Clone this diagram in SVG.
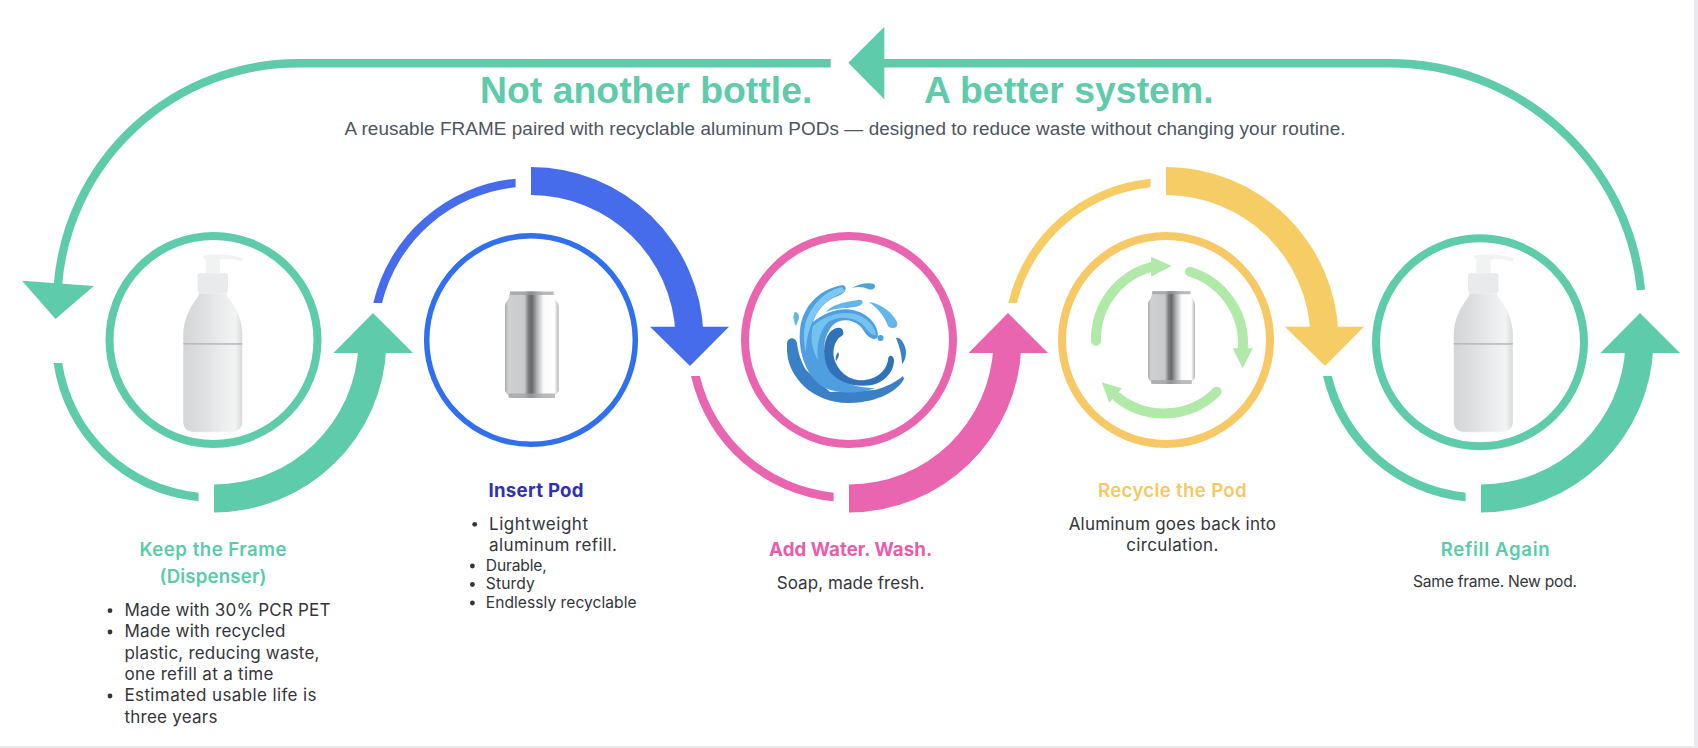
<svg xmlns="http://www.w3.org/2000/svg" xmlns:xlink="http://www.w3.org/1999/xlink" width="1698" height="748" viewBox="0 0 1698 748">
<style>
.teal{fill:#5ecbaa}.blue{fill:#466cec}.pink{fill:#e965b0}.yellow{fill:#f6cc65}
.ring{fill:#fff;stroke-width:8}
.big{fill:none;stroke:#5ecbaa;stroke-width:8.4}
.re{fill:none;stroke:#b1e9a9;stroke-width:10;stroke-linecap:round}
.ref{fill:#b1e9a9}
text{font-family:"Inter","Liberation Sans",sans-serif}
.title{font-family:"Liberation Sans",Arial,sans-serif;font-weight:700;font-size:37.4px;fill:#5ecbaa}
.sub{font-family:"Liberation Sans",Arial,sans-serif;font-size:18.9px;fill:#4b5563}
.h{font-weight:600;font-size:18.6px;text-anchor:middle}
.b{font-size:17px;fill:#33353a}
.s{font-size:15.6px;fill:#33353a}
.c{text-anchor:middle}
.dot{fill:#33353a}
</style>
<defs>
<linearGradient id="canG" x1="0" x2="1" y1="0" y2="0">
<stop offset="0" stop-color="#a8a9ab"/><stop offset=".06" stop-color="#cfd0d2"/><stop offset=".36" stop-color="#c9cacc"/><stop offset=".44" stop-color="#7a7b7d"/><stop offset=".5" stop-color="#68696b"/><stop offset=".6" stop-color="#b4b5b7"/><stop offset=".72" stop-color="#fbfbfb"/><stop offset=".92" stop-color="#ffffff"/><stop offset="1" stop-color="#b5b6b8"/>
</linearGradient>
<linearGradient id="botG" x1="0" x2="1" y1="0" y2="0">
<stop offset="0" stop-color="#d3d5d6"/><stop offset=".3" stop-color="#dddedf"/><stop offset=".68" stop-color="#ecedee"/><stop offset=".88" stop-color="#f2f3f3"/><stop offset="1" stop-color="#d8d9da"/>
</linearGradient>
<radialGradient id="botS"><stop offset="0" stop-color="#c8c9c9" stop-opacity=".55"/><stop offset="1" stop-color="#ffffff" stop-opacity="0"/></radialGradient>
<path id="lt1" d="M-158,36A162 162 0 0 0-15.4,161.3L-15.4,152.7A153.5 153.5 0 0 1-149.2,36Z"/>
<path id="ut" d="M-157.7,-37A162 162 0 0 1-15.4,-161.3L-15.4,-152.7A153.5 153.5 0 0 0-149,-37Z"/>
<g id="lowArrow"><path d="M0,172.5A172.5 172.5 0 0 0 172.4,5L144.4,5A144.5 144.5 0 0 1 0,144.5Z"/><path d="M159,-27L199,13L119.5,13Z"/></g>
<g id="upArrow"><path d="M0,-173A173 173 0 0 1 172.5,-5L144.5,-5A145 145 0 0 0 0,-145Z"/><path d="M159,26L198,-13.3L119,-13.3Z"/></g>
<g id="bottle">
<ellipse cx="203" cy="430" rx="24" ry="5" fill="url(#botS)"/>
<path d="M204,255.5C212,254 232,253.5 243.5,258.5L242,261.5C233,258.5 226,258.5 220,259.5L220,273.5L205.7,273.5L205.7,259L203.5,258Z" fill="#f1f2f2"/>
<path d="M197.5,276Q197.5,273.3 200,273.3L225.5,273.3Q228,273.3 228,276L228,291L226,293.5L199.5,293.5L197.5,291Z" fill="#e9eaeb"/>
<path d="M199,293.5L226.5,293.5L227,296C235,306 242.3,318 242.3,335L242.3,344L183.3,344L183.3,335C183.3,318 191,306 198.5,296Z" fill="url(#botG)"/>
<path d="M183.3,344.8L242.3,344.8L242.3,421Q242.3,431.8 231,431.8L194,431.8Q183.3,431.8 183.3,421Z" fill="url(#botG)"/>
<rect x="183.3" y="343.4" width="59" height="1.2" fill="#a4a5a9"/>
</g>
<g id="can">
<path d="M5,0.5L48.7,0.5L49.5,6C50.5,10 53.7,11 53.7,16L53.7,100L50,105L47,107L7,107L3.7,105L0,100L0,16C0,11 3,10 4,6Z" fill="url(#canG)"/>
<rect x="5" y="0.5" width="43.7" height="3.5" fill="#9c9d9f" opacity=".7"/>
<rect x="3.7" y="102.5" width="46.3" height="4.5" fill="#a3a4a6" opacity=".75"/>
</g>
</defs>
<rect width="1698" height="748" fill="#fff"/>
<rect x="1694" y="0" width="4" height="748" fill="#e9e9ef"/>
<rect x="0" y="746" width="1698" height="2" fill="#e9e9ef"/>

<g id="connectors">
<path class="big" d="M830.7,63.3L298,63.3A241 241 0 0 0 58,284"/>
<path class="teal" d="M22,280.7L93.8,286L55.5,319Z"/>
<path class="big" d="M884,63.3L1390,63.3A252 252 0 0 1 1641,290"/>
<path class="teal" d="M848.3,62.7L884.3,26.7L884.3,99.3Z"/>
<use href="#lowArrow" class="teal" transform="translate(214,340)"/>
<path class="teal" d="M53.6,363A162 162 0 0 0 198.6,501.3L198.6,492.7A153.5 153.5 0 0 1 62.2,363Z"/>
<use href="#ut" class="blue" transform="translate(531,340)"/>
<use href="#upArrow" class="blue" transform="translate(531,340)"/>
<use href="#lt1" class="pink" transform="translate(849,340)"/>
<use href="#lowArrow" class="pink" transform="translate(849,340)"/>
<use href="#ut" class="yellow" transform="translate(1166,340)"/>
<use href="#upArrow" class="yellow" transform="translate(1166,340)"/>
<use href="#lt1" class="teal" transform="translate(1481,340)"/>
<use href="#lowArrow" class="teal" transform="translate(1481,340)"/>
</g>

<g id="header">
<text class="title" x="480" y="103">Not another bottle.</text>
<text class="title" x="924" y="103">A better system.</text>
<text class="sub" x="344.5" y="135" textLength="1001">A reusable FRAME paired with recyclable aluminum PODs — designed to reduce waste without changing your routine.</text>
</g>

<g id="node-frame">
<circle class="ring" cx="213.5" cy="340" r="104" stroke="#5ecbaa"/>
<use href="#bottle"/>
<text class="h" x="213" y="556" fill="#56cda8" textLength="147">Keep the Frame</text>
<text class="h" x="213" y="583" fill="#56cda8" textLength="107">(Dispenser)</text>
<circle class="dot" cx="110" cy="610.7" r="2.4"/><circle class="dot" cx="110" cy="632" r="2.4"/><circle class="dot" cx="110" cy="696" r="2.4"/>
<text class="b" x="124.5" y="616" textLength="206">Made with 30% PCR PET</text>
<text class="b" x="124.5" y="637.3" textLength="161">Made with recycled</text>
<text class="b" x="124.5" y="658.7" textLength="195">plastic, reducing waste,</text>
<text class="b" x="124.5" y="680" textLength="149">one refill at a time</text>
<text class="b" x="124.5" y="701.3" textLength="192">Estimated usable life is</text>
<text class="b" x="124.5" y="722.7" textLength="93">three years</text>
</g>

<g id="node-pod">
<circle class="ring" cx="531" cy="340" r="104.3" stroke="#3070ee" style="stroke-width:5.5"/>
<use href="#can" transform="translate(505,291)"/>
<text class="h" x="536" y="496.7" fill="#3030b4" style="font-weight:700" textLength="95">Insert Pod</text>
<circle class="dot" cx="474.7" cy="524.3" r="2.4"/><circle class="dot" cx="472.4" cy="566" r="2.4"/><circle class="dot" cx="472.4" cy="584.5" r="2.4"/><circle class="dot" cx="472.4" cy="603" r="2.4"/>
<text class="b" x="489" y="530" textLength="99">Lightweight</text>
<text class="b" x="489" y="551.3" textLength="128">aluminum refill.</text>
<text class="s" x="485.8" y="570.7" textLength="61">Durable,</text>
<text class="s" x="485.8" y="589.3" textLength="49">Sturdy</text>
<text class="s" x="485.8" y="607.7" textLength="150.8">Endlessly recyclable</text>
</g>

<g id="node-water">
<circle class="ring" cx="849" cy="340" r="104" stroke="#e965b0"/>
<g id="splash">
<path fill="#3a80c6" d="M787,345C786,338 795,335 797,343C798,352 801,362 806,370L830,392L875,390C886,387 896,382 903,376L904,379C898,390 880,402 850,403C815,404 785,378 787,345Z"/>
<path fill="#4f9fe0" d="M843,285C848,287 846,293 838,296C826,300 817,310 813,322C825,312 840,307 853,310C866,313 877,322 878,335C878,339 874,340 871,338C866,336 864,330 860,326C852,319 840,318 832,326C824,336 822,350 826,362C832,378 850,388 875,388C860,394 835,395 820,385C805,373 798,350 800,330C802,310 815,290 843,285Z"/>
<path fill="#7cc8f2" d="M842,287C826,290 810,305 805,325C803,335 804,345 806,352C806,335 812,318 822,306C830,298 838,295 845,291Z"/>
<path fill="#74c2ef" d="M813,326C825,315 842,311 855,314C866,317 875,325 876,335C872,337 868,330 862,324C852,316 838,316 828,322C820,330 816,345 818,360C812,350 810,338 813,326Z"/>
<path fill="#62b6ea" d="M826,312C832,304 846,302 858,300C864,299 864,304 859,306C848,309 836,307 826,312Z"/>
<path fill="#2f72b8" d="M843,331C842,326 835,327 830,332C822,342 822,360 830,372C840,385 865,390 880,382C890,376 894,368 894,360C893,354 888,355 888,360C887,368 880,378 865,380C850,382 838,372 834,358C832,348 836,340 840,337C843,336 844,334 843,331Z"/>
<path fill="#4aa3dc" d="M852,288C858,284 868,282 874,284C877,287 873,291 868,289C864,287 858,286 852,288Z"/>
<path fill="#62b6ea" d="M869,302C880,303 892,312 897,322C899,328 892,330 888,326C885,318 880,310 869,302Z"/>
<path fill="#62b6ea" d="M795,312C799,312 800,318 798,321L796,326C794,322 792,316 795,312Z"/>
<circle fill="#4aa3dc" cx="880.5" cy="338" r="3"/>
<path fill="#3a82c8" d="M896,338C900,336 906,345 906,352C906,358 904,362 902,364C902,355 899,345 896,338Z"/>
<path fill="#2f72b8" d="M838,352C836,355 835,358 836,361C838,358 840,355 838,352Z"/>
</g>
<text class="h" x="850.6" y="555.7" fill="#e95cac" style="font-weight:700" textLength="163">Add Water. Wash.</text>
<text class="b c" x="850.5" y="589" textLength="147.6">Soap, made fresh.</text>
</g>

<g id="node-recycle">
<circle class="ring" cx="1166" cy="340" r="104" stroke="#f6c966"/>
<path class="re" d="M1096,340.7A75 75 0 0 1 1153,266.5"/>
<path class="ref" d="M1171.7,266L1151,256.7L1151,276.7Z"/>
<path class="re" d="M1190,271.7A75 75 0 0 1 1242.7,350"/>
<path class="ref" d="M1242.7,368.3L1232.7,348.3L1252.7,348.3Z"/>
<path class="re" d="M1216.7,391.7A75 75 0 0 1 1117,397"/>
<path class="ref" d="M1101.7,382.3L1121.7,388.3L1109.3,402.7Z"/>
<use href="#can" transform="translate(1148,290.7) scale(.875,.872)"/>
<text class="h" x="1172.3" y="496.7" fill="#f7c862" textLength="148.7">Recycle the Pod</text>
<text class="b c" x="1172.3" y="530" textLength="207.3">Aluminum goes back into</text>
<text class="b c" x="1172.3" y="551" textLength="92">circulation.</text>
</g>

<g id="node-refill">
<circle class="ring" cx="1480" cy="342.3" r="104" stroke="#5ecbaa"/>
<use href="#bottle" transform="translate(1270.5,0)"/>
<text class="h" x="1495.2" y="556" fill="#56cda8" textLength="109">Refill Again</text>
<text class="s c" x="1495" y="587" textLength="164">Same frame. New pod.</text>
</g>
</svg>
